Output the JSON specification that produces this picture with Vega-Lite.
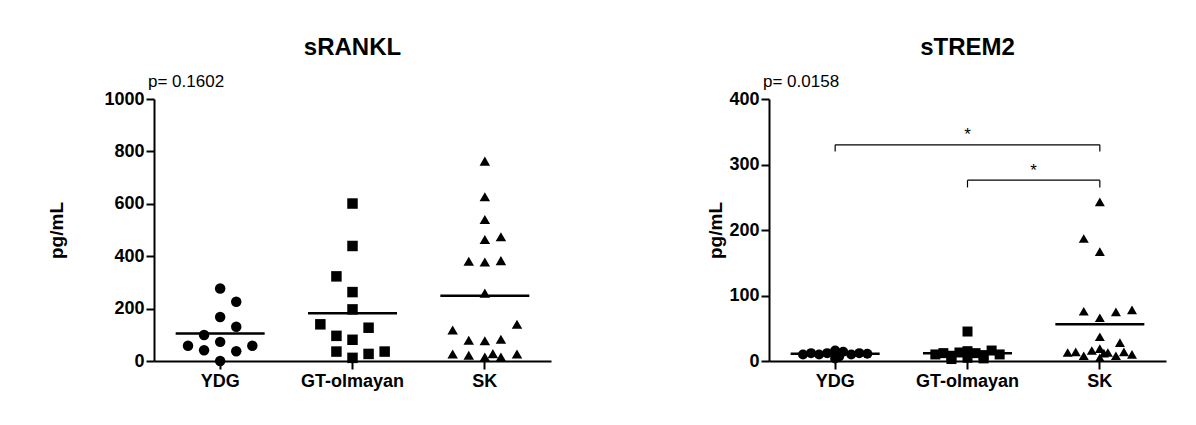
{
  "$schema": "https://vega.github.io/schema/vega-lite/v6.json",
  "padding": {"left": 47, "top": 35, "right": 5, "bottom": 5},
  "background": "white",
  "spacing": 155,
  "config": {
    "view": {"stroke": null},
    "font": "Liberation Sans",
    "axis": {
      "domainColor": "black", "domainWidth": 2, "tickColor": "black", "tickWidth": 2, "tickSize": 8,
      "labelColor": "black", "labelFont": "Liberation Sans", "labelFontSize": 18, "labelFontWeight": "bold",
      "titleColor": "black", "titleFont": "Liberation Sans", "titleFontSize": 19, "titleFontWeight": "bold",
      "grid": false
    },
    "title": {"font": "Liberation Sans", "fontSize": 24, "fontWeight": "bold", "color": "black", "anchor": "middle", "offset": 13}
  },
  "datasets": {
    "pts1": [
      {"group": "YDG", "off": 0, "value": 277}, {"group": "YDG", "off": 1, "value": 226}, {"group": "YDG", "off": 0, "value": 168},
      {"group": "YDG", "off": 1, "value": 131}, {"group": "YDG", "off": -1, "value": 99}, {"group": "YDG", "off": -2, "value": 58},
      {"group": "YDG", "off": 0, "value": 73}, {"group": "YDG", "off": 2, "value": 58}, {"group": "YDG", "off": -1, "value": 41},
      {"group": "YDG", "off": 1, "value": 37}, {"group": "YDG", "off": 0, "value": 0},
      {"group": "GT-olmayan", "off": 0, "value": 601}, {"group": "GT-olmayan", "off": 0, "value": 439}, {"group": "GT-olmayan", "off": -1, "value": 323},
      {"group": "GT-olmayan", "off": 0, "value": 263}, {"group": "GT-olmayan", "off": 0, "value": 197}, {"group": "GT-olmayan", "off": -2, "value": 140},
      {"group": "GT-olmayan", "off": 1, "value": 127}, {"group": "GT-olmayan", "off": -1, "value": 96}, {"group": "GT-olmayan", "off": 0, "value": 81},
      {"group": "GT-olmayan", "off": -1, "value": 36}, {"group": "GT-olmayan", "off": 1, "value": 27}, {"group": "GT-olmayan", "off": 2, "value": 36},
      {"group": "GT-olmayan", "off": 0, "value": 12},
      {"group": "SK", "off": 0, "value": 763}, {"group": "SK", "off": 0, "value": 627}, {"group": "SK", "off": 0, "value": 540},
      {"group": "SK", "off": 0, "value": 464}, {"group": "SK", "off": 1, "value": 474}, {"group": "SK", "off": -1, "value": 381},
      {"group": "SK", "off": 0, "value": 378}, {"group": "SK", "off": 1, "value": 383}, {"group": "SK", "off": 0, "value": 259},
      {"group": "SK", "off": -2, "value": 118}, {"group": "SK", "off": 2, "value": 140}, {"group": "SK", "off": -1, "value": 79},
      {"group": "SK", "off": 0, "value": 77}, {"group": "SK", "off": 1, "value": 83}, {"group": "SK", "off": -2, "value": 27},
      {"group": "SK", "off": -1, "value": 22}, {"group": "SK", "off": 0, "value": 15}, {"group": "SK", "off": 0.5, "value": 28},
      {"group": "SK", "off": 1, "value": 15}, {"group": "SK", "off": 2, "value": 27}
    ],
    "means1": [
      {"group": "YDG", "value": 105}, {"group": "GT-olmayan", "value": 182}, {"group": "SK", "value": 249}
    ],
    "ptext1": [{"group": "YDG", "value": 1065, "label": "p= 0.1602"}],
    "pts2": [
      {"group": "YDG", "off": -2, "value": 10}, {"group": "YDG", "off": -1.5, "value": 12}, {"group": "YDG", "off": -1, "value": 10},
      {"group": "YDG", "off": -0.5, "value": 12}, {"group": "YDG", "off": 0, "value": 16}, {"group": "YDG", "off": 0.25, "value": 7},
      {"group": "YDG", "off": 0.5, "value": 14}, {"group": "YDG", "off": 1, "value": 10}, {"group": "YDG", "off": 1.5, "value": 12},
      {"group": "YDG", "off": 2, "value": 11}, {"group": "YDG", "off": 0, "value": 4},
      {"group": "GT-olmayan", "off": -2, "value": 10}, {"group": "GT-olmayan", "off": -1.5, "value": 12}, {"group": "GT-olmayan", "off": -1, "value": 8},
      {"group": "GT-olmayan", "off": -0.5, "value": 13}, {"group": "GT-olmayan", "off": 0, "value": 15}, {"group": "GT-olmayan", "off": 0, "value": 5},
      {"group": "GT-olmayan", "off": 0.5, "value": 12}, {"group": "GT-olmayan", "off": 1, "value": 9}, {"group": "GT-olmayan", "off": 1.5, "value": 16},
      {"group": "GT-olmayan", "off": 2, "value": 10}, {"group": "GT-olmayan", "off": -1, "value": 3}, {"group": "GT-olmayan", "off": 1, "value": 4},
      {"group": "GT-olmayan", "off": 0, "value": 45},
      {"group": "SK", "off": 0, "value": 243}, {"group": "SK", "off": -1, "value": 187}, {"group": "SK", "off": 0, "value": 167},
      {"group": "SK", "off": -1, "value": 76}, {"group": "SK", "off": 1, "value": 75}, {"group": "SK", "off": 2, "value": 78},
      {"group": "SK", "off": 0, "value": 66}, {"group": "SK", "off": 0, "value": 37}, {"group": "SK", "off": 1.25, "value": 28},
      {"group": "SK", "off": -2, "value": 13}, {"group": "SK", "off": -1.5, "value": 14}, {"group": "SK", "off": -1, "value": 8},
      {"group": "SK", "off": -0.5, "value": 16}, {"group": "SK", "off": 0, "value": 19}, {"group": "SK", "off": 0.5, "value": 13},
      {"group": "SK", "off": 1, "value": 8}, {"group": "SK", "off": 1.5, "value": 14}, {"group": "SK", "off": 2, "value": 10},
      {"group": "SK", "off": 0, "value": 5}, {"group": "SK", "off": 0.25, "value": 12}
    ],
    "means2": [
      {"group": "YDG", "value": 11}, {"group": "GT-olmayan", "value": 12}, {"group": "SK", "value": 56}
    ],
    "ptext2": [{"group": "YDG", "value": 426, "label": "p= 0.0158"}],
    "bars2": [
      {"from": "YDG", "to": "SK", "value": 330},
      {"from": "GT-olmayan", "to": "SK", "value": 276}
    ],
    "legs2": [
      {"group": "YDG", "top": 330, "bottom": 320},
      {"group": "SK", "top": 330, "bottom": 320},
      {"group": "GT-olmayan", "top": 276, "bottom": 265},
      {"group": "SK", "top": 276, "bottom": 265}
    ],
    "stars2": [
      {"group": "GT-olmayan", "pos": 0.5, "value": 345, "label": "*"},
      {"group": "GT-olmayan", "pos": 1, "value": 290, "label": "*"}
    ]
  },
  "hconcat": [
    {
      "title": "sRANKL",
      "width": 397,
      "height": 262,
      "layer": [
        {
          "data": {"name": "pts1"},
          "mark": {"type": "point", "filled": true, "fill": "black", "opacity": 1, "size": 110},
          "encoding": {
            "x": {"field": "group", "type": "nominal", "sort": ["YDG", "GT-olmayan", "SK"],
                  "scale": {"domain": ["YDG", "GT-olmayan", "SK"], "paddingInner": 0, "paddingOuter": 0},
                  "axis": {"title": null, "labelAngle": 0, "labelPadding": 3}},
            "xOffset": {"field": "off", "type": "quantitative", "scale": {"domain": [-4.115, 4.115]}},
            "y": {"field": "value", "type": "quantitative", "scale": {"domain": [0, 1000], "nice": false},
                  "axis": {"title": "pg/mL", "values": [0, 200, 400, 600, 800, 1000], "format": "d", "labelPadding": 2, "titlePadding": 37}},
            "shape": {"field": "group", "type": "nominal", "scale": {"domain": ["YDG", "GT-olmayan", "SK"], "range": ["circle", "square", "triangle-up"]}, "legend": null}
          }
        },
        {
          "data": {"name": "means1"},
          "mark": {"type": "tick", "color": "black", "size": 89, "thickness": 2.5, "opacity": 1},
          "encoding": {
            "x": {"field": "group", "type": "nominal"},
            "y": {"field": "value", "type": "quantitative"}
          }
        },
        {
          "data": {"name": "ptext1"},
          "mark": {"type": "text", "align": "left", "baseline": "middle", "fontSize": 17, "color": "black", "dx": -6},
          "encoding": {
            "x": {"field": "group", "type": "nominal", "bandPosition": 0},
            "y": {"field": "value", "type": "quantitative"},
            "text": {"field": "label"}
          }
        }
      ],
      "resolve": {"scale": {"xOffset": "independent"}}
    },
    {
      "title": "sTREM2",
      "width": 397,
      "height": 262,
      "layer": [
        {
          "data": {"name": "pts2"},
          "mark": {"type": "point", "filled": true, "fill": "black", "opacity": 1, "size": 100},
          "encoding": {
            "x": {"field": "group", "type": "nominal", "sort": ["YDG", "GT-olmayan", "SK"],
                  "scale": {"domain": ["YDG", "GT-olmayan", "SK"], "paddingInner": 0, "paddingOuter": 0},
                  "axis": {"title": null, "labelAngle": 0, "labelPadding": 3}},
            "xOffset": {"field": "off", "type": "quantitative", "scale": {"domain": [-4.115, 4.115]}},
            "y": {"field": "value", "type": "quantitative", "scale": {"domain": [0, 400], "nice": false},
                  "axis": {"title": "pg/mL", "values": [0, 100, 200, 300, 400], "format": "d", "labelPadding": 2, "titlePadding": 3}},
            "shape": {"field": "group", "type": "nominal", "scale": {"domain": ["YDG", "GT-olmayan", "SK"], "range": ["circle", "square", "triangle-up"]}, "legend": null}
          }
        },
        {
          "data": {"name": "means2"},
          "mark": {"type": "tick", "color": "black", "size": 89, "thickness": 2.5, "opacity": 1},
          "encoding": {
            "x": {"field": "group", "type": "nominal"},
            "y": {"field": "value", "type": "quantitative"}
          }
        },
        {
          "data": {"name": "bars2"},
          "mark": {"type": "rule", "color": "black", "strokeWidth": 1.2},
          "encoding": {
            "x": {"field": "from", "type": "nominal", "bandPosition": 0.5},
            "x2": {"field": "to", "bandPosition": 0.5},
            "y": {"field": "value", "type": "quantitative"}
          }
        },
        {
          "data": {"name": "legs2"},
          "mark": {"type": "rule", "color": "black", "strokeWidth": 1.2},
          "encoding": {
            "x": {"field": "group", "type": "nominal", "bandPosition": 0.5},
            "y": {"field": "top", "type": "quantitative"},
            "y2": {"field": "bottom"}
          }
        },
        {
          "data": {"name": "stars2"},
          "mark": {"type": "text", "align": "center", "baseline": "middle", "fontSize": 17, "color": "black"},
          "encoding": {
            "x": {"field": "group", "type": "nominal", "bandPosition": {"field": "pos"}},
            "y": {"field": "value", "type": "quantitative"},
            "text": {"field": "label"}
          }
        },
        {
          "data": {"name": "ptext2"},
          "mark": {"type": "text", "align": "left", "baseline": "middle", "fontSize": 17, "color": "black", "dx": -6},
          "encoding": {
            "x": {"field": "group", "type": "nominal", "bandPosition": 0},
            "y": {"field": "value", "type": "quantitative"},
            "text": {"field": "label"}
          }
        }
      ],
      "resolve": {"scale": {"xOffset": "independent"}}
    }
  ]
}
